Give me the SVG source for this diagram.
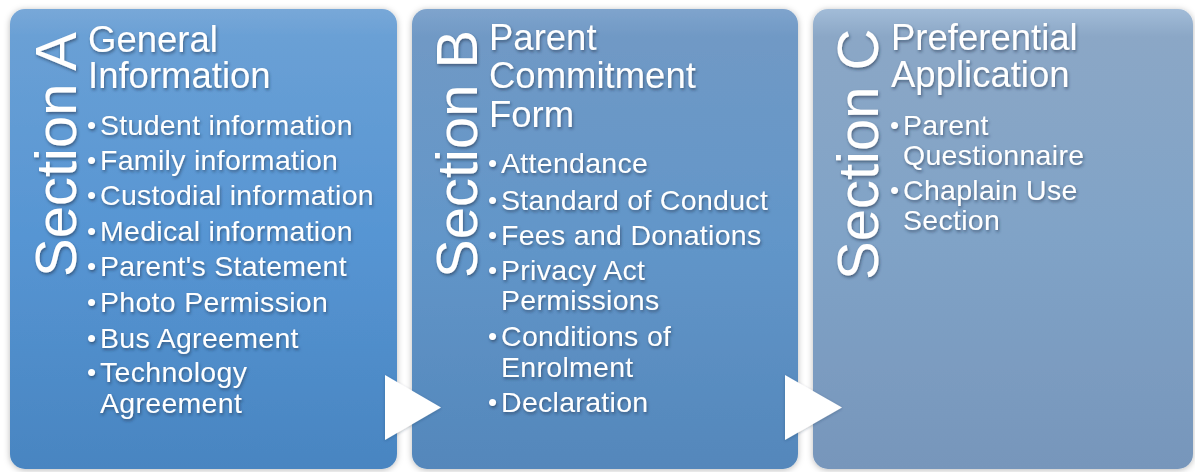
<svg xmlns="http://www.w3.org/2000/svg" width="1195" height="472" viewBox="0 0 1195 472">
<defs>
<linearGradient id="gA" x1="0" y1="0" x2="0" y2="1">
<stop offset="0" stop-color="#78a8d8"/>
<stop offset="0.06" stop-color="#6aa0d5"/>
<stop offset="0.5" stop-color="#5695d3"/>
<stop offset="1" stop-color="#4985c1"/>
</linearGradient>
<linearGradient id="gB" x1="0" y1="0" x2="0" y2="1">
<stop offset="0" stop-color="#7fa4cd"/>
<stop offset="0.06" stop-color="#7099c5"/>
<stop offset="0.5" stop-color="#6296c9"/>
<stop offset="1" stop-color="#5487bb"/>
</linearGradient>
<linearGradient id="gC" x1="0" y1="0" x2="0" y2="1">
<stop offset="0" stop-color="#a2bcd8"/>
<stop offset="0.06" stop-color="#8ba7c6"/>
<stop offset="0.5" stop-color="#80a3c7"/>
<stop offset="1" stop-color="#7796bb"/>
</linearGradient>
<filter id="ps" x="-10%" y="-10%" width="120%" height="120%">
<feDropShadow dx="0" dy="1" stdDeviation="3" flood-color="#000" flood-opacity="0.28"/>
</filter>
<filter id="ts" x="-10%" y="-20%" width="120%" height="150%">
<feDropShadow dx="1" dy="2" stdDeviation="1.6" flood-color="#1a2f4a" flood-opacity="0.55"/>
</filter>
<filter id="as" x="-30%" y="-30%" width="160%" height="160%">
<feDropShadow dx="0" dy="1" stdDeviation="1.5" flood-color="#1a2f4a" flood-opacity="0.3"/>
</filter>
</defs>
<style>
text { font-family: "Liberation Sans", Arial, sans-serif; fill: #ffffff; }
.sec { font-size: 58px; }
.ttl { font-size: 36.5px; }
.bul { font-size: 28.5px; letter-spacing: 0.3px; }
.dot { font-size: 26px; }
.txt { filter: url(#ts); }
</style>
<rect width="1195" height="472" fill="#ffffff"/>

<g id="sectionA">
<rect x="10" y="9" width="387" height="460" rx="15" fill="url(#gA)" filter="url(#ps)"/>
<g class="txt">
<text class="sec" transform="translate(76,277) rotate(-90)">Section A</text>
<text class="ttl" x="88" y="52">General</text>
<text class="ttl" x="88" y="88">Information</text>
<text class="bul" y="135"><tspan class="dot" x="87" dy="-1">•</tspan><tspan x="100" dy="1">Student information</tspan></text>
<text class="bul" y="170"><tspan class="dot" x="87" dy="-1">•</tspan><tspan x="100" dy="1">Family information</tspan></text>
<text class="bul" y="205"><tspan class="dot" x="87" dy="-1">•</tspan><tspan x="100" dy="1">Custodial information</tspan></text>
<text class="bul" y="240.5"><tspan class="dot" x="87" dy="-1">•</tspan><tspan x="100" dy="1">Medical information</tspan></text>
<text class="bul" y="276"><tspan class="dot" x="87" dy="-1">•</tspan><tspan x="100" dy="1">Parent's Statement</tspan></text>
<text class="bul" y="312"><tspan class="dot" x="87" dy="-1">•</tspan><tspan x="100" dy="1">Photo Permission</tspan></text>
<text class="bul" y="348"><tspan class="dot" x="87" dy="-1">•</tspan><tspan x="100" dy="1">Bus Agreement</tspan></text>
<text class="bul" y="382"><tspan class="dot" x="87" dy="-1">•</tspan><tspan x="100" dy="1">Technology</tspan></text>
<text class="bul" x="100" y="413">Agreement</text>
</g>
</g>

<g id="sectionB">
<rect x="412" y="9" width="386" height="460" rx="15" fill="url(#gB)" filter="url(#ps)"/>
<g class="txt">
<text class="sec" transform="translate(477,278) rotate(-90)">Section B</text>
<text class="ttl" x="489" y="50">Parent</text>
<text class="ttl" x="489" y="88">Commitment</text>
<text class="ttl" x="489" y="127">Form</text>
<text class="bul" y="173"><tspan class="dot" x="488" dy="-1">•</tspan><tspan x="501" dy="1">Attendance</tspan></text>
<text class="bul" y="210"><tspan class="dot" x="488" dy="-1">•</tspan><tspan x="501" dy="1">Standard of Conduct</tspan></text>
<text class="bul" y="245"><tspan class="dot" x="488" dy="-1">•</tspan><tspan x="501" dy="1">Fees and Donations</tspan></text>
<text class="bul" y="280"><tspan class="dot" x="488" dy="-1">•</tspan><tspan x="501" dy="1">Privacy Act</tspan></text>
<text class="bul" x="501" y="310">Permissions</text>
<text class="bul" y="346"><tspan class="dot" x="488" dy="-1">•</tspan><tspan x="501" dy="1">Conditions of</tspan></text>
<text class="bul" x="501" y="377">Enrolment</text>
<text class="bul" y="412"><tspan class="dot" x="488" dy="-1">•</tspan><tspan x="501" dy="1">Declaration</tspan></text>
</g>
</g>

<g id="sectionC">
<rect x="813" y="9" width="380" height="460" rx="15" fill="url(#gC)" filter="url(#ps)"/>
<g class="txt">
<text class="sec" transform="translate(878,280) rotate(-90)">Section C</text>
<text class="ttl" x="891" y="50">Preferential</text>
<text class="ttl" x="891" y="87">Application</text>
<text class="bul" y="135"><tspan class="dot" x="890" dy="-1">•</tspan><tspan x="903" dy="1">Parent</tspan></text>
<text class="bul" x="903" y="165">Questionnaire</text>
<text class="bul" y="200"><tspan class="dot" x="890" dy="-1">•</tspan><tspan x="903" dy="1">Chaplain Use</tspan></text>
<text class="bul" x="903" y="230">Section</text>
</g>
</g>

<g id="connectors">
<polygon points="385,375 441,407.5 385,440" fill="#ffffff" filter="url(#as)"/>
<polygon points="785,375 842,407.5 785,440" fill="#ffffff" filter="url(#as)"/>
</g>
</svg>
